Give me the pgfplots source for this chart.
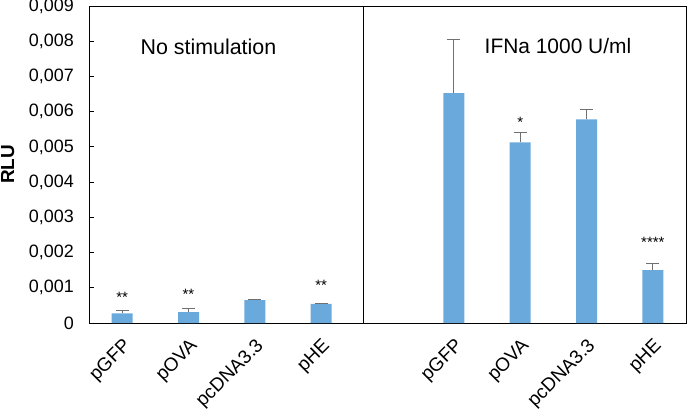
\documentclass[border=0pt]{standalone}
\usepackage{pgfplots}
\pgfplotsset{compat=1.18}
\usepackage{fontspec}
\setmainfont{Liberation Sans}
\definecolor{barblue}{HTML}{6AA9DC}
\definecolor{errgray}{HTML}{707070}
\begin{document}
\begin{tikzpicture}
\begin{axis}[
  at={(89bp,91bp)}, anchor=south west,
  scale only axis, width=597bp, height=317bp,
  xmin=-0.5, xmax=8.5, ymin=0, ymax=0.009,
  ybar, bar width=21bp,
  axis line style={black, line width=0.8bp},
  xtick={0,1,2,3,5,6,7,8},
  xticklabels={pGFP,pOVA,pcDNA3.3,pHE,pGFP,pOVA,pcDNA3.3,pHE},
  x tick style={draw=none},
  xticklabel style={rotate=45, anchor=north east, inner sep=1bp, yshift=-9bp, xshift=-9bp, font=\fontsize{19}{21}\selectfont},
  ytick={0,0.001,0.002,0.003,0.004,0.005,0.006,0.007,0.008,0.009},
  yticklabels={0,{0,001},{0,002},{0,003},{0,004},{0,005},{0,006},{0,007},{0,008},{0,009}},
  yticklabel style={font=\fontsize{18}{20}\selectfont, inner sep=2bp, xshift=-13bp},
  ytick pos=left, tick align=inside,
  y tick style={black, line width=0.8bp},
  major tick length=5bp,
  /pgf/number format/assume math mode=true,
  scaled y ticks=false,
  ylabel={RLU},
  ylabel style={at={(axis description cs:-0.136,0.5)}, anchor=center, rotate=0, font=\bfseries\fontsize{19}{21}\selectfont},
  clip=false,
]
\addplot[fill=barblue, draw=none,
  error bars/.cd, y dir=plus, y explicit,
  error bar style={errgray, line width=1bp},
  error mark options={errgray, rotate=90, mark size=6.5bp, line width=1bp}]
  table[x=x, y=y, y error=e] {
x y e
0 0.000275 0.000075
1 0.00031 0.00011
2 0.00065 0.00002
3 0.00054 0.00002
5 0.006525 0.001515
6 0.00513 0.00029
7 0.00578 0.00028
8 0.0015 0.0002
};
\draw[black, line width=0.8bp] (axis cs:3.64,0) -- (axis cs:3.64,0.009);
\node[font=\fontsize{21.5}{23}\selectfont] at (axis cs:1.30,0.00784) {No stimulation};
\node[font=\fontsize{21}{23}\selectfont] at (axis cs:6.57,0.00787) {IFNa 1000 U/ml};
\node[font=\fontsize{15}{17}\selectfont] at (axis cs:0,0.00074) {**};
\node[font=\fontsize{15}{17}\selectfont] at (axis cs:1,0.00082) {**};
\node[font=\fontsize{15}{17}\selectfont] at (axis cs:3,0.00108) {**};
\node[font=\fontsize{15}{17}\selectfont] at (axis cs:6,0.00569) {*};
\node[font=\fontsize{15}{17}\selectfont] at (axis cs:8,0.00228) {****};
\end{axis}
\pgfresetboundingbox
\path[use as bounding box] (0,0) rectangle (688bp,414bp);
\end{tikzpicture}
\end{document}
